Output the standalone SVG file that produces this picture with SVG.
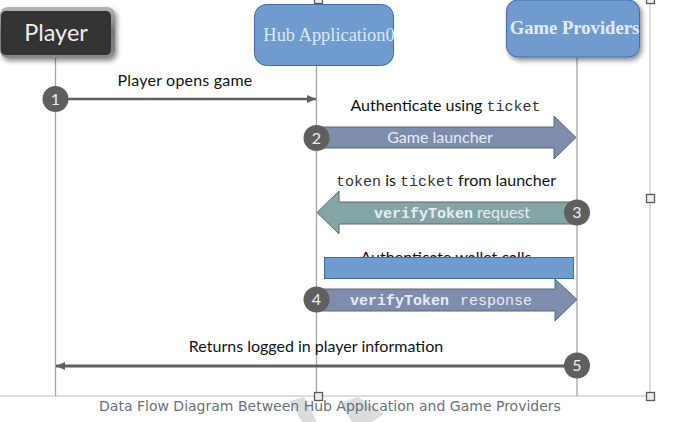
<svg xmlns="http://www.w3.org/2000/svg" width="678" height="422" viewBox="0 0 678 422">
<style>
text{font-family:"Lato","Noto Sans",sans-serif}
.lb{font-size:16px;fill:#111;text-anchor:middle}
.mono{font-family:"Liberation Mono",monospace;font-size:15px}
.ser{font-family:"Liberation Serif",serif}
.life{stroke:#a6a6a6;stroke-width:1.3;fill:none}
.sel{stroke:#bdbdbd;stroke-width:1;fill:none}
.h{fill:#ececec;stroke:#5a5a5a;stroke-width:1.300}
.c{fill:#5f5f5f}
.n{fill:#eee;font-size:16px;text-anchor:middle}
.w{fill:#e8ecf2;font-size:16px;text-anchor:middle}
.box{fill:#6f9bce;stroke:#3f6ca8;stroke-width:1}
</style>
<defs>
<filter id="sh" x="-20%" y="-20%" width="140%" height="150%"><feDropShadow dx="2" dy="3" stdDeviation="2.500" flood-color="#000" flood-opacity=".45"/></filter>
<linearGradient id="pb" x1="0" y1="0" x2="0" y2="1"><stop offset="0" stop-color="#b5b5b5"/><stop offset=".5" stop-color="#777"/><stop offset="1" stop-color="#8a8a8a"/></linearGradient>
<marker id="ah" markerWidth="10" markerHeight="9" refX="9" refY="4" orient="auto-start-reverse" markerUnits="userSpaceOnUse"><path d="M0 0L9 4L0 8Z" fill="#5f5f5f"/></marker>
</defs>
<g id="frame">
<path class="sel" d="M0 396H650V2"/>
<path d="M290 401L304 397L317 422H302Z" fill="#dcdcdc"/>
<path d="M341 403L358 397L384 414L372 422H352Z" fill="#dcdcdc"/>
</g>
<g id="connectors">
<path class="life" d="M55.500 58V396M316.500 66V396M577 58V396"/>
<path d="M68 99H316" stroke="#5f5f5f" stroke-width="2.500" fill="none" marker-end="url(#ah)"/>
<path d="M566 366H56" stroke="#5f5f5f" stroke-width="3" fill="none" marker-end="url(#ah)"/>
</g>
<g id="player">
<rect x="0" y="7" width="115" height="51" rx="8" fill="url(#pb)" filter="url(#sh)"/>
<rect x="1" y="11" width="110" height="44" rx="5" fill="#333"/>
<text x="56" y="41" font-size="23.500" fill="#eee" text-anchor="middle">Player</text>
</g>
<g id="hub">
<rect class="box" x="254.500" y="4.500" width="139" height="61" rx="12"/>
<text class="ser" x="329" y="41" font-size="18.400" fill="#dce8f5" text-anchor="middle">Hub Application0</text>
</g>
<g id="providers">
<rect class="box" x="506.500" y="0" width="133" height="57" rx="11" filter="url(#sh)"/>
<text class="ser" x="574.500" y="34" font-size="18.600" font-weight="bold" fill="#e4edf7" text-anchor="middle">Game Providers</text>
</g>
<g id="step1">
<text class="lb" x="185" y="86" style="letter-spacing:.2px">Player opens game</text>
<circle class="c" cx="55.500" cy="99" r="13"/>
<text class="n" x="55.500" y="104.500">1</text>
</g>
<g id="step2">
<text class="lb" x="445.500" y="111">Authenticate using <tspan class="mono" fill="#333">ticket</tspan></text>
<path d="M316 127H554V116L576 137.500L554 159V148H316Z" fill="#7e8cae" stroke="#5f6670"/>
<text class="w" x="440" y="143">Game launcher</text>
<circle class="c" cx="316.500" cy="138" r="13"/>
<text class="n" x="316.500" y="143.500">2</text>
</g>
<g id="step3">
<text class="lb" x="446" y="186"><tspan class="mono" fill="#333">token</tspan> is <tspan class="mono" fill="#333">ticket</tspan> from launcher</text>
<path d="M577 202H339V191L317 212.500L339 234V224H577Z" fill="#84a5a5" stroke="#5f6670"/>
<text class="w" x="452" y="218"><tspan class="mono" font-weight="bold">verifyToken</tspan> request</text>
<circle class="c" cx="577" cy="212.500" r="13"/>
<text class="n" x="577" y="218">3</text>
</g>
<g id="step4">
<text class="lb" x="446" y="263">Authenticate wallet calls</text>
<text class="lb" x="446" y="279">with <tspan class="mono">cachedToken</tspan></text>
<path d="M316 289H555V279L577 299.500L555 321V311H316Z" fill="#7e8cae" stroke="#5f6670"/>
<rect class="box" x="324.500" y="257.500" width="249" height="21"/>
<text class="w" x="350" y="305" style="text-anchor:start"><tspan class="mono" font-weight="bold">verifyToken</tspan><tspan class="mono" x="460">response</tspan></text>
<circle class="c" cx="316.500" cy="299.500" r="13"/>
<text class="n" x="316.500" y="305">4</text>
</g>
<g id="step5">
<text class="lb" x="316" y="352">Returns logged in player information</text>
<circle class="c" cx="577" cy="365.500" r="13"/>
<text class="n" x="577" y="371">5</text>
</g>
<g id="handles">
<rect class="h" x="314.500" y="-4.500" width="8" height="8"/>
<rect class="h" x="646.500" y="-4.500" width="8" height="8"/>
<rect class="h" x="646.500" y="194.500" width="8" height="8"/>
<rect class="h" x="646.500" y="392.500" width="8" height="8"/>
<rect class="h" x="314.500" y="392.500" width="8" height="8"/>
</g>
<text id="caption" x="330" y="411" style="font-family:'DejaVu Sans',sans-serif" font-size="14" fill="#6b7078" text-anchor="middle">Data Flow Diagram Between Hub Application and Game Providers</text>
</svg>
